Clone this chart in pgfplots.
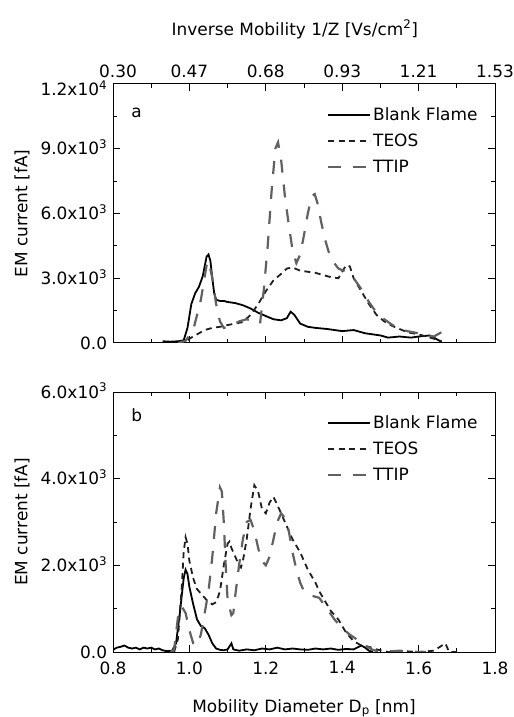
\documentclass[border=0pt]{standalone}
\usepackage{fontspec}
\setmainfont{DejaVu Sans}
\usepackage{pgfplots}
\pgfplotsset{compat=1.18}

\pgfplotsset{
  panel/.style={
    scale only axis, width=382bp, height=259bp,
    xmin=0.8, xmax=1.8,
    xtick={0.8,1.0,1.2,1.4,1.6,1.8},
    minor x tick num=1, minor y tick num=1,
    scaled ticks=false,
    clip mode=individual,
    tick align=inside,
    major tick length=7bp, minor tick length=4bp,
    axis line style={line width=1bp},
    every tick/.style={black, line width=1bp},
    xticklabel style={yshift=-6bp},
    yticklabel style={anchor=base east, inner sep=0.5bp, xshift=-5.2bp, yshift=-6.2bp},
    legend style={draw=none, fill=none, at={(0.96,0.918)}, anchor=north east,
      row sep=8bp, inner sep=0bp},
    legend cell align=left,
    legend image code/.code={\draw[##1] (0bp,0bp) -- (42bp,0bp);},
    every axis y label/.style={at={(rel axis cs:-0.238,0.5)}, rotate=90, anchor=center},
  },
  blank/.style={black, line width=1.8bp, solid},
  teos/.style={black!88, line width=1.8bp, dash pattern=on 6bp off 4.5bp},
  ttip/.style={black!62, line width=2.2bp, dash pattern=on 13bp off 12bp},
}

\begin{document}
\begin{tikzpicture}[font=\fontsize{17}{20}\selectfont]
\useasboundingbox (0,0) rectangle (514bp,717bp);

% ---------------- panel a ----------------
\begin{axis}[panel,
  at={(113bp,374bp)}, anchor=south west,
  ymin=0, ymax=12000,
  ytick={0,3000,6000,9000,12000},
  yticklabels={0.0,3.0x10\textsuperscript{3},6.0x10\textsuperscript{3},9.0x10\textsuperscript{3},{}},
  xticklabels={},
  ylabel={EM current [fA]},
]
\addplot[blank] coordinates {
(0.93,80) (0.95,60) (0.97,80) (0.985,120) (0.995,700) (1.005,1800) (1.015,2300)
(1.025,2600) (1.035,3100) (1.045,4000) (1.05,4100) (1.055,3800) (1.06,3000)
(1.065,2300) (1.07,2000) (1.08,1950) (1.09,1950) (1.10,1900) (1.12,1850)
(1.14,1750) (1.16,1600) (1.18,1400) (1.20,1250) (1.22,1100) (1.24,1050)
(1.255,1150) (1.265,1450) (1.275,1300) (1.29,900) (1.31,750) (1.33,700)
(1.36,650) (1.40,550) (1.43,600) (1.46,450) (1.50,350) (1.52,250) (1.55,300)
(1.58,250) (1.60,300) (1.63,350) (1.65,150) (1.66,50)
};
\addlegendentry{Blank Flame}
\addplot[teos] coordinates {
(0.97,0) (0.99,50) (1.00,200) (1.02,400) (1.04,600) (1.06,700) (1.08,750)
(1.10,830) (1.12,900) (1.14,970) (1.16,1300) (1.18,1800) (1.20,2400)
(1.22,2900) (1.24,3200) (1.255,3450) (1.27,3500) (1.29,3350) (1.31,3300)
(1.33,3250) (1.35,3150) (1.37,3050) (1.39,3000) (1.40,3300) (1.41,3600)
(1.42,3550) (1.43,3000) (1.45,2400) (1.47,1800) (1.49,1300) (1.51,1000)
(1.53,800) (1.55,650) (1.57,500) (1.60,400) (1.62,300) (1.64,200) (1.66,80)
};
\addlegendentry{TEOS}
\addplot[ttip] coordinates {
(0.97,0) (0.99,100) (1.01,600) (1.03,2000) (1.045,3600) (1.05,3800) (1.06,3000)
(1.07,1800) (1.08,1000) (1.09,700) (1.11,800) (1.13,1000) (1.15,1100)
(1.17,1000) (1.185,900) (1.195,2500) (1.205,4500) (1.215,7000) (1.225,9000)
(1.232,9300) (1.24,8500) (1.25,6800) (1.26,5500) (1.27,4300) (1.28,3700)
(1.29,4100) (1.30,5000) (1.31,6000) (1.32,6800) (1.328,6900) (1.335,6500)
(1.345,5600) (1.355,4800) (1.365,4200) (1.375,3800) (1.39,3450) (1.41,3300)
(1.43,3000) (1.45,2500) (1.47,1900) (1.49,1400) (1.51,1100) (1.53,850)
(1.55,650) (1.57,550) (1.60,450) (1.62,350) (1.64,300) (1.66,500) (1.68,150)
};
\addlegendentry{TTIP}
\node[anchor=base west] at (rel axis cs:0.039,0.869) {a};
% top tick label, set a little lower as in the original
\node[anchor=base east, inner sep=0.5bp, xshift=-5.2bp, yshift=-12bp]
  at (rel axis cs:0,1) {1.2x10\textsuperscript{4}};
\end{axis}

% top axis of panel a (inverse mobility)
\begin{axis}[
  scale only axis, width=382bp, height=259bp,
  at={(113bp,374bp)}, anchor=south west,
  xmin=0.8, xmax=1.8, ymin=0, ymax=1,
  axis x line*=top, axis y line=none,
  xtick={0.8,1.0,1.2,1.4,1.6,1.8},
  xticklabels={\hspace*{10bp}0.30,0.47,0.68,0.93,1.21,1.53},
  xticklabel style={anchor=base, yshift=6bp},
  minor x tick num=1,
  tick align=inside,
  major tick length=7bp, minor tick length=4bp,
  axis line style={line width=1bp},
  every tick/.style={black, line width=1bp},
  every axis x label/.style={at={(rel axis cs:0.476,1.189)}, anchor=base},
  xlabel={Inverse Mobility 1/Z [Vs/cm\textsuperscript{2}]},
]
\end{axis}

% ---------------- panel b ----------------
\begin{axis}[panel,
  at={(113bp,65bp)}, anchor=south west, height=260bp,
  ymin=0, ymax=6000,
  ytick={0,2000,4000,6000},
  yticklabels={0.0,2.0x10\textsuperscript{3},4.0x10\textsuperscript{3},6.0x10\textsuperscript{3}},
  xticklabels={0.8,1.0,1.2,1.4,1.6,1.8},
  ylabel={EM current [fA]},
  every axis x label/.style={at={(rel axis cs:0.5,-0.231)}, anchor=base},
  xlabel={Mobility Diameter D\textsubscript{p} [nm]},
]
\addplot[blank] coordinates {
(0.80,50) (0.81,100) (0.82,120) (0.83,150) (0.84,100) (0.85,80) (0.86,100)
(0.87,60) (0.88,100) (0.89,80) (0.90,100) (0.91,60) (0.92,80) (0.93,40)
(0.94,20) (0.955,30) (0.965,200) (0.975,900) (0.985,1700) (0.99,1900)
(0.995,1800) (1.00,1500) (1.01,1100) (1.02,750) (1.03,600) (1.04,550)
(1.05,400) (1.06,200) (1.07,80) (1.08,50) (1.09,40) (1.10,60) (1.11,200)
(1.115,60) (1.13,30) (1.15,60) (1.17,40) (1.19,80) (1.21,60) (1.23,100)
(1.25,60) (1.27,80) (1.29,60) (1.31,50) (1.33,80) (1.35,60) (1.37,80)
(1.39,50) (1.41,70) (1.43,60) (1.45,150) (1.46,100) (1.47,30) (1.48,0)
};
\addlegendentry{Blank Flame}
\addplot[teos] coordinates {
(0.96,0) (0.97,300) (0.98,1500) (0.985,2300) (0.99,2650) (0.995,2500)
(1.00,2100) (1.01,1700) (1.02,1450) (1.03,1350) (1.04,1250) (1.05,1150)
(1.06,1100) (1.07,1150) (1.08,1400) (1.09,2000) (1.10,2500) (1.105,2550)
(1.11,2400) (1.12,2200) (1.13,2000) (1.135,1950) (1.14,2100) (1.15,2600)
(1.16,3300) (1.17,3850) (1.18,3700) (1.19,3300) (1.20,3200) (1.21,3450)
(1.22,3580) (1.23,3400) (1.24,3200) (1.25,3000) (1.26,2800) (1.27,2600)
(1.28,2450) (1.29,2300) (1.30,2100) (1.31,1900) (1.32,1750) (1.33,1600)
(1.34,1400) (1.35,1250) (1.36,1100) (1.37,950) (1.38,850) (1.39,750)
(1.40,600) (1.41,450) (1.42,350) (1.43,250) (1.45,150) (1.47,120) (1.49,60)
(1.52,0) (1.56,20) (1.60,0) (1.64,30) (1.67,200) (1.68,0) (1.70,0)
};
\addlegendentry{TEOS}
\addplot[ttip] coordinates {
(0.95,0) (0.96,50) (0.97,800) (0.98,1050) (0.99,900) (1.00,500) (1.01,200)
(1.02,150) (1.03,400) (1.04,900) (1.05,1400) (1.06,2200) (1.07,3200)
(1.08,3800) (1.085,3700) (1.09,3000) (1.095,2000) (1.10,1200) (1.11,850)
(1.115,900) (1.12,1300) (1.13,2000) (1.14,2600) (1.15,3000) (1.16,3050)
(1.17,2800) (1.18,2400) (1.19,2100) (1.20,2000) (1.21,2200) (1.22,2600)
(1.23,3000) (1.24,3200) (1.25,3100) (1.26,2800) (1.27,2300) (1.28,1900)
(1.29,1600) (1.30,1400) (1.32,1300) (1.34,1250) (1.36,1000) (1.38,750)
(1.40,550) (1.42,400) (1.44,280) (1.46,150) (1.48,50) (1.50,0) (1.55,30)
(1.60,0) (1.62,0)
};
\addlegendentry{TTIP}
\node[anchor=base west] at (rel axis cs:0.039,0.885) {b};
\end{axis}
\end{tikzpicture}
\end{document}
